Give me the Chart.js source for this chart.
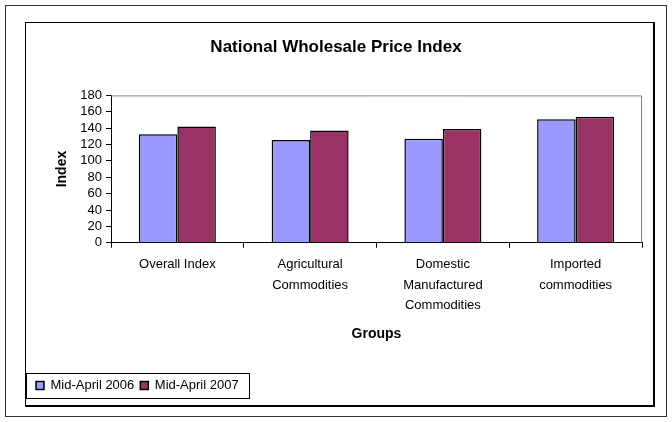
<!DOCTYPE html>
<html>
<head>
<meta charset="utf-8">
<script src="https://cdn.jsdelivr.net/npm/chart.js@4/dist/chart.umd.min.js"></script>
<style>
  html, body { margin: 0; padding: 0; background: #fff; }
  #outer { position: absolute; left: 5px; top: 5px; width: 660px; height: 410px; border: 1px solid #333; }
  #frame { position: absolute; left: 25px; top: 22px; width: 627px; height: 382px;
           border: 1px solid #000; border-right-width: 2px; border-bottom-width: 2px; }
  #frame canvas { position: absolute; left: 0; top: 0; }
</style>
</head>
<body>
<div id="outer"></div>
<div id="frame"><canvas id="chart" width="627" height="382"></canvas></div>
<script>
var groups = [
  "Overall Index",
  ["Agricultural", "Commodities"],
  ["Domestic", "Manufactured", "Commodities"],
  ["Imported", "commodities"]
];
var april2006 = [132.5, 125.5, 127, 151];
var april2007 = [142, 137, 139, 154];
var yTicks = [0, 20, 40, 60, 80, 100, 120, 140, 160, 180];

var fontFamily = "'Liberation Sans', Arial, sans-serif";

// grey frame round the plot area (top and right, the axes cover the rest)
var plotFrame = {
  id: "plotFrame",
  beforeDatasetsDraw: function (chart) {
    var a = chart.chartArea;
    var ctx = chart.ctx;
    ctx.save();
    ctx.strokeStyle = "#808080";
    ctx.lineWidth = 1;
    ctx.beginPath();
    ctx.moveTo(a.left, a.top + 0.5);
    ctx.lineTo(a.right - 0.5, a.top + 0.5);
    ctx.lineTo(a.right - 0.5, a.bottom);
    ctx.stroke();
    ctx.restore();
  }
};

// box round the legend like the old excel one
var legendBox = {
  id: "legendBox",
  afterDraw: function (chart) {
    var boxes = chart.legend.legendHitBoxes;
    if (!boxes || !boxes.length) return;
    var last = boxes[boxes.length - 1];
    var ctx = chart.ctx;
    var top = boxes[0].top - 6;
    var bottom = boxes[0].top + boxes[0].height + 6;
    ctx.save();
    ctx.strokeStyle = "#000";
    ctx.lineWidth = 1;
    ctx.strokeRect(0.5, Math.round(top) + 0.5, Math.round(last.left + last.width + 10), Math.round(bottom - top));
    ctx.restore();
  }
};

var ctx = document.getElementById("chart").getContext("2d");
var chart = new Chart(ctx, {
  type: "bar",
  data: {
    labels: groups,
    datasets: [
      {
        label: "Mid-April 2006",
        data: april2006,
        backgroundColor: "#9999FF",
        borderColor: "#000",
        borderWidth: 1.5
      },
      {
        label: "Mid-April 2007",
        data: april2007,
        backgroundColor: "#993366",
        borderColor: "#000",
        borderWidth: 1.5
      }
    ]
  },
  options: {
    responsive: false,
    animation: false,
    layout: { padding: { left: 4, right: 11, top: 0, bottom: 3 } },
    datasets: { bar: { categoryPercentage: 0.58, barPercentage: 1 } },
    plugins: {
      title: {
        display: true,
        text: "National Wholesale Price Index",
        color: "#000",
        font: { family: fontFamily, size: 17, weight: "bold" },
        padding: { top: 14, bottom: 38 }
      },
      legend: {
        position: "bottom",
        align: "start",
        labels: {
          color: "#000",
          font: { family: fontFamily, size: 13 },
          boxWidth: 8,
          boxHeight: 8,
          padding: 6
        }
      },
      tooltip: { enabled: false }
    },
    scales: {
      x: {
        grid: { display: true, drawOnChartArea: false, drawTicks: true, tickLength: 5, color: "#000", offset: true },
        border: { display: true, color: "#000" },
        ticks: {
          color: "#000",
          font: { family: fontFamily, size: 13, lineHeight: 1.55 },
          padding: 7,
          maxRotation: 0,
          autoSkip: false
        },
        title: {
          display: true,
          text: "Groups",
          color: "#000",
          font: { family: fontFamily, size: 14, weight: "bold" },
          padding: { top: 4, bottom: 30 }
        }
      },
      y: {
        min: 0,
        max: 180,
        afterBuildTicks: function (scale) {
          scale.ticks = yTicks.map(function (v) { return { value: v }; });
        },
        afterFit: function (scale) { scale.width = 81; },
        grid: { display: true, drawOnChartArea: false, drawTicks: true, tickLength: 5, color: "#000" },
        border: { display: true, color: "#000" },
        ticks: {
          color: "#000",
          font: { family: fontFamily, size: 13 },
          padding: 4,
          autoSkip: false
        },
        title: {
          display: true,
          text: "Index",
          color: "#000",
          font: { family: fontFamily, size: 14, weight: "bold" },
          padding: { top: 24, bottom: 0 }
        }
      }
    }
  },
  plugins: [plotFrame, legendBox]
});
</script>
</body>
</html>
